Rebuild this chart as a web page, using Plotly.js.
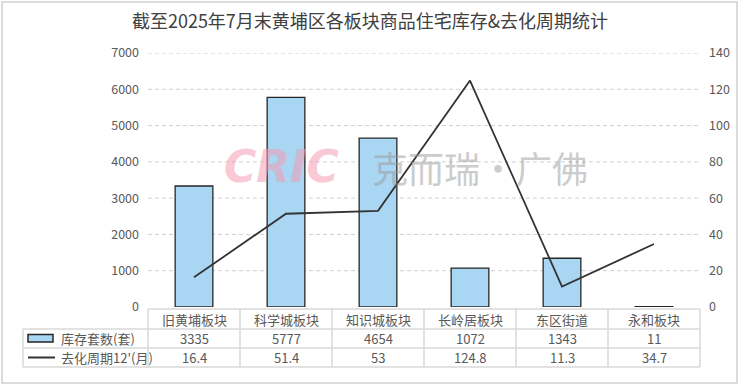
<!DOCTYPE html>
<html><head><meta charset="utf-8">
<script src="https://cdn.plot.ly/plotly-3.0.1.min.js"></script>
<style>html,body{margin:0;padding:0;background:#fff}#chart{width:740px;height:392px}</style>
</head><body><div id="chart"></div>
<script>
const categories = ['旧黄埔板块','科学城板块','知识城板块','长岭居板块','东区街道','永和板块'];
const inventory = [3335, 5777, 4654, 1072, 1343, 11];
const cycle = [16.4, 51.4, 53, 124.8, 11.3, 34.7];
const seriesNames = ['库存套数(套)', "去化周期12'(月)"];
const leftTicks = [0,1000,2000,3000,4000,5000,6000,7000];
const rightTicks = [0,20,40,60,80,100,120,140];

const W = 740, H = 392, L = 148, R = 700, T = 53, B = 307;
const pw = R - L, ph = B - T;
const px = x => (x - L) / pw;
const py = y => (B - y) / ph;
const font = '"Noto Sans CJK SC", "Noto Sans", sans-serif';
const txt = '#595959', gridc = '#d9d9d9';

const traces = [
  {type:'bar', x: categories, y: inventory, name: seriesNames[0], width: 0.41,
   marker:{color:'#a9d6f2', line:{color:'#262626', width:1.3}}, yaxis:'y', showlegend:false, hoverinfo:'skip'},
  {type:'scatter', mode:'lines', x: categories, y: cycle, name: seriesNames[1],
   line:{color:'#333333', width:1.8}, yaxis:'y2', showlegend:false, hoverinfo:'skip'}
];

const shapes = [];
const annotations = [];
const rowY = [309, 329, 348, 367];
const colX = [];
for (let i = 0; i <= categories.length; i++) colX.push(L + pw * i / categories.length);
const lc = {color: gridc, width: 1.5};
shapes.push({type:'line', xref:'paper', yref:'paper', x0:px(L), x1:px(R), y0:py(rowY[0]), y1:py(rowY[0]), line:lc});
for (let r = 1; r < 4; r++) shapes.push({type:'line', xref:'paper', yref:'paper', x0:px(23), x1:px(R), y0:py(rowY[r]), y1:py(rowY[r]), line:lc});
colX.forEach(x => shapes.push({type:'line', xref:'paper', yref:'paper', x0:px(x), x1:px(x), y0:py(rowY[0]), y1:py(rowY[3]), line:lc}));
shapes.push({type:'line', xref:'paper', yref:'paper', x0:px(23), x1:px(23), y0:py(rowY[1]), y1:py(rowY[3]), line:lc});
shapes.push({type:'rect', xref:'paper', yref:'paper', x0:px(28), x1:px(53), y0:py(334.5), y1:py(342), fillcolor:'#a9d6f2', line:{color:'#262626', width:1.5}});
shapes.push({type:'line', xref:'paper', yref:'paper', x0:px(28), x1:px(55), y0:py(357.5), y1:py(357.5), line:{color:'#333333', width:2}});
shapes.push({type:'rect', xref:'paper', yref:'paper', x0:px(2), x1:px(737), y0:py(2), y1:py(383), line:{color:'#d0d0d0', width:1.5}, layer:'below'});
// dashed gridlines from the left axis ticks
leftTicks.slice(1).forEach(v => shapes.push({type:'line', xref:'paper', yref:'y', x0:0, x1:1, y0:v, y1:v,
  line:{color:'#d0d0d0', width:1, dash:'4px,3px'}, layer:'below'}));

const tf = {family: font, size: 13, color: txt};
categories.forEach((c, i) => {
  const cx = px((colX[i] + colX[i+1]) / 2);
  annotations.push({xref:'paper', yref:'paper', x:cx, y:py(319), text:c, showarrow:false, font:tf, xanchor:'center', yanchor:'middle'});
  annotations.push({xref:'paper', yref:'paper', x:cx, y:py(338.5), text:String(inventory[i]), showarrow:false, font:tf, xanchor:'center', yanchor:'middle'});
  annotations.push({xref:'paper', yref:'paper', x:cx, y:py(357.5), text:String(cycle[i]), showarrow:false, font:tf, xanchor:'center', yanchor:'middle'});
});
annotations.push({xref:'paper', yref:'paper', x:px(59), y:py(338.5), text:seriesNames[0], showarrow:false, font:tf, xanchor:'left', yanchor:'middle'});
annotations.push({xref:'paper', yref:'paper', x:px(59), y:py(357.5), text:seriesNames[1], showarrow:false, font:tf, xanchor:'left', yanchor:'middle'});
annotations.push({xref:'paper', yref:'paper', x:px(222), y:py(166), text:'<b><i>CRIC</i></b>', showarrow:false, xanchor:'left', yanchor:'middle',
  font:{family:'"DejaVu Sans", sans-serif', size:44, color:'#f59db3'}, opacity:0.55});
annotations.push({xref:'paper', yref:'paper', x:px(370), y:py(167), text:'克而瑞·广佛', showarrow:false, xanchor:'left', yanchor:'middle',
  font:{family:font, size:36, color:'#9a9a9a'}, opacity:0.5});

const layout = {
  width: W, height: H,
  margin: {l: L, r: W - R, t: T, b: H - B, pad: 0},
  paper_bgcolor: '#fff', plot_bgcolor: '#fff',
  title: {text: '截至2025年7月末黄埔区各板块商品住宅库存&去化周期统计', x: 0.5, xanchor:'center', y: 1 - 22/H, yanchor:'middle',
          font: {family: font, size: 18, color: '#404040'}},
  xaxis: {type:'category', showticklabels:false, showgrid:false, zeroline:false, showline:false, ticks:'', range:[-0.5, 5.5], fixedrange:true},
  yaxis: {range:[0,7000], tickvals:leftTicks, ticktext:leftTicks.map(String), showgrid:false,
          zeroline:false, showline:false, ticks:'', ticklabelstandoff:8, tickfont:{family:font, size:12.5, color:txt}},
  yaxis2: {range:[0,140], tickvals:rightTicks, ticktext:rightTicks.map(String), overlaying:'y', side:'right', showgrid:false,
           zeroline:false, showline:false, ticks:'', ticklabelstandoff:8, tickfont:{family:font, size:12.5, color:txt}},
  shapes, annotations, showlegend:false, bargap:0.5
};
Plotly.newPlot('chart', traces, layout, {staticPlot:true, displayModeBar:false});
</script></body></html>
